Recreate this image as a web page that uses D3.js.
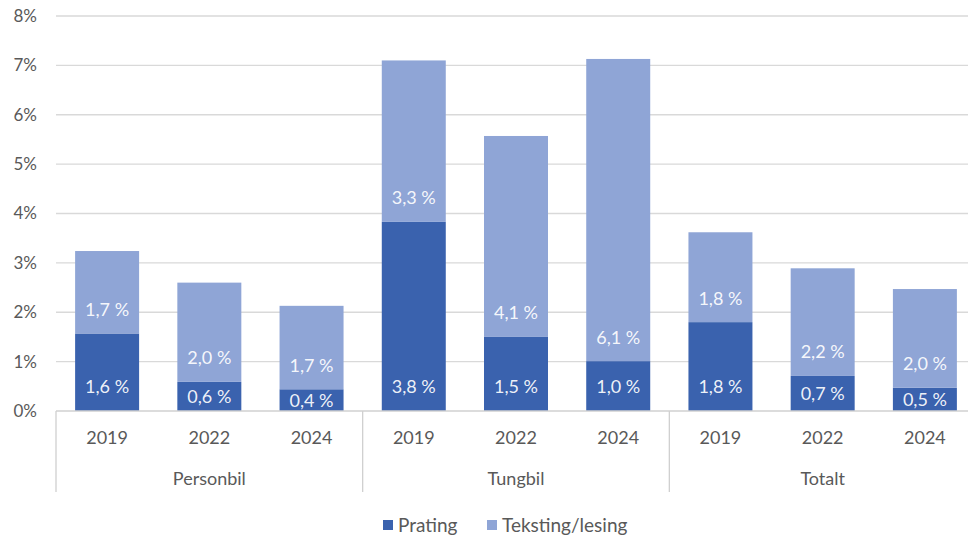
<!DOCTYPE html>
<html>
<head>
<meta charset="utf-8">
<script src="https://cdn.jsdelivr.net/npm/d3@7"></script>
<style>
  body { margin: 0; background: #fff; }
  svg { display: block; font-family: Lato, "Open Sans", sans-serif; }
</style>
</head>
<body>
<svg id="chart" width="968" height="538"></svg>
<script>
const groups = ["Personbil", "Tungbil", "Totalt"];
const years = ["2019", "2022", "2024"];
const legendLabels = ["Prating", "Teksting/lesing"];
// values per group, in year order
const prating = [
  [1.57, 0.59, 0.44],
  [3.83, 1.50, 1.01],
  [1.80, 0.71, 0.47]
];
const tekst = [
  [1.67, 2.01, 1.69],
  [3.27, 4.07, 6.12],
  [1.82, 2.18, 2.00]
];
const yTicks = [0, 1, 2, 3, 4, 5, 6, 7, 8];

const colors = ["#3a62ae", "#8fa5d6"];

const svg = d3.select("#chart");
const plotLeft = 56, plotRight = 976, plotTop = 16, plotBottom = 411;

const x0 = d3.scaleBand().domain(groups).range([plotLeft, plotRight]).padding(0);
const x1 = d3.scaleBand().domain(years).range([0, x0.bandwidth()])
    .paddingInner(0.374).paddingOuter(0.187);
const y = d3.scaleLinear().domain([0, 8]).range([plotBottom, plotTop]);

// gridlines
svg.append("g")
    .selectAll("line")
    .data(yTicks.slice(1))
    .enter()
    .append("line")
    .attr("x1", plotLeft).attr("x2", plotRight)
    .attr("y1", d => y(d)).attr("y2", d => y(d))
    .attr("stroke", "#d9d9d9").attr("stroke-width", 1.3);

// y axis labels
const yAxis = svg.append("g")
    .attr("transform", `translate(${plotLeft}, 0)`)
    .call(d3.axisLeft(y).tickValues(yTicks).tickFormat(d => d + "%").tickSize(0).tickPadding(19));
yAxis.select(".domain").remove();
yAxis.selectAll("text")
    .style("font-size", "17px")
    .style("font-family", "Lato, sans-serif")
    .attr("fill", "#595959");

// build stacked data
const rows = [];
groups.forEach((g, gi) => {
    years.forEach((yr, yi) => {
        rows.push({ group: g, year: yr, a: prating[gi][yi], b: tekst[gi][yi] });
    });
});

const segs = [];
rows.forEach(r => {
    segs.push({ r, s: 0, y0: 0, y1: r.a, v: r.a });
    segs.push({ r, s: 1, y0: r.a, y1: r.a + r.b, v: r.b });
});

const bx = r => x0(r.group) + x1(r.year);

svg.append("g")
    .selectAll("rect")
    .data(segs)
    .enter()
    .append("rect")
    .attr("x", d => bx(d.r))
    .attr("width", x1.bandwidth())
    .attr("y", d => y(d.y1))
    .attr("height", d => y(d.y0) - y(d.y1))
    .attr("fill", d => colors[d.s]);

// data labels (inside base)
const fmt = v => v.toFixed(1).replace(".", ",") + " %";
svg.append("g")
    .selectAll("text")
    .data(segs)
    .enter()
    .append("text")
    .attr("x", d => bx(d.r) + x1.bandwidth() / 2)
    .attr("y", d => {
        const b = y(d.y0), t = y(d.y1);
        return Math.max(b - 24, (b + t) / 2);
    })
    .attr("dy", "0.36em")
    .attr("text-anchor", "middle")
    .attr("fill", "#ffffff")
    .attr("fill-opacity", 0.93)
    .style("font-size", "18px")
    .text(d => fmt(d.v));

// baseline
svg.append("line")
    .attr("x1", plotLeft).attr("x2", plotRight)
    .attr("y1", plotBottom).attr("y2", plotBottom)
    .attr("stroke", "#d0d0d0").attr("stroke-width", 1.3);

// group separators
const seps = groups.map(g => x0(g)).concat([plotRight]);
svg.append("g")
    .selectAll("line")
    .data(seps)
    .enter()
    .append("line")
    .attr("x1", d => d).attr("x2", d => d)
    .attr("y1", plotBottom).attr("y2", 492)
    .attr("stroke", "#d0d0d0").attr("stroke-width", 1.3);

// year labels
svg.append("g")
    .selectAll("text")
    .data(rows)
    .enter()
    .append("text")
    .attr("x", d => bx(d) + x1.bandwidth() / 2)
    .attr("y", 438)
    .attr("dy", "0.36em")
    .attr("text-anchor", "middle")
    .attr("fill", "#595959")
    .style("font-size", "18px")
    .text(d => d.year);

// group labels
svg.append("g")
    .selectAll("text")
    .data(groups)
    .enter()
    .append("text")
    .attr("x", d => x0(d) + x0.bandwidth() / 2)
    .attr("y", 479)
    .attr("dy", "0.36em")
    .attr("text-anchor", "middle")
    .attr("fill", "#595959")
    .style("font-size", "18px")
    .text(d => d);

// legend
const legend = svg.append("g").attr("transform", "translate(383, 525)");
const legX = [0, 104];
legendLabels.forEach((name, i) => {
    const g = legend.append("g").attr("transform", `translate(${legX[i]}, 0)`);
    g.append("rect")
        .attr("x", 0).attr("y", -5)
        .attr("width", 10).attr("height", 10)
        .attr("fill", colors[i]);
    g.append("text")
        .attr("x", 15).attr("y", 0)
        .attr("dy", "0.36em")
        .attr("fill", "#595959")
        .style("font-size", "19px")
        .text(name);
});
</script>
</body>
</html>
